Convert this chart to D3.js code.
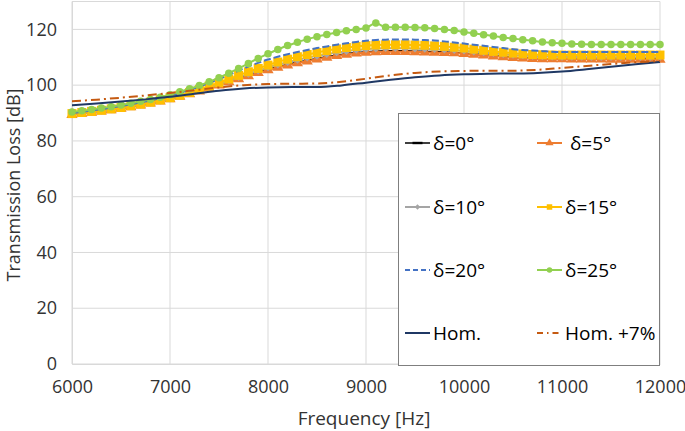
<!DOCTYPE html>
<html>
<head>
<meta charset="utf-8">
<script src="https://cdn.jsdelivr.net/npm/d3@7"></script>
<style>
  body { margin: 0; background: #fff; }
  svg { font-family: "Open Sans", sans-serif; }
  .legend text { white-space: pre; }
</style>
</head>
<body>
<svg width="685" height="431"></svg>
<script>
// frequencies of the marker series (every 100 Hz) and of the smooth reference curves (every 250 Hz)
var freqs = d3.range(6000, 12001, 100);
var freqsHom = d3.range(6000, 12001, 250);

var xTicks = [6000, 7000, 8000, 9000, 10000, 11000, 12000];
var yTicks = [0, 20, 40, 60, 80, 100, 120];

var delta0 = [89.6,90.0,90.4,90.8,91.3,91.8,92.4,93.0,93.7,94.4,
  95.2,96.1,97.0,98.0,99.1,100.2,101.4,102.5,103.6,104.7,
  105.7,106.6,107.4,108.2,108.9,109.6,110.2,110.8,111.3,111.7,
  112.0,112.2,112.3,112.3,112.3,112.2,112.1,112.0,111.9,111.7,
  111.5,111.2,110.9,110.6,110.3,110.0,109.8,109.6,109.5,109.4,
  109.3,109.3,109.3,109.3,109.3,109.3,109.3,109.4,109.4,109.5,109.5];

var delta5 = [89.4,89.8,90.2,90.6,91.1,91.6,92.2,92.8,93.5,94.2,
  95.0,95.9,96.8,97.8,98.9,100.0,101.1,102.2,103.3,104.4,
  105.4,106.3,107.1,107.9,108.6,109.3,109.9,110.5,111.0,111.4,
  111.7,111.9,112.0,112.0,112.0,111.9,111.8,111.7,111.6,111.5,
  111.3,111.0,110.7,110.4,110.1,109.8,109.6,109.5,109.4,109.4,
  109.4,109.3,109.3,109.3,109.3,109.2,109.2,109.2,109.2,109.2,109.2];

var delta10 = [89.6,90.0,90.4,90.8,91.3,91.8,92.4,93.0,93.7,94.4,
  95.2,96.1,97.1,98.1,99.2,100.4,101.6,102.8,104.0,105.2,
  106.3,107.3,108.2,109.0,109.8,110.5,111.1,111.7,112.2,112.6,
  112.9,113.1,113.2,113.2,113.2,113.1,113.0,112.9,112.7,112.5,
  112.3,112.0,111.7,111.4,111.1,110.8,110.6,110.4,110.3,110.2,
  110.1,110.1,110.1,110.0,110.0,110.0,110.0,110.0,110.0,110.0,110.0];

var delta15 = [89.8,90.2,90.6,91.0,91.5,92.0,92.6,93.2,93.9,94.7,
  95.5,96.4,97.4,98.5,99.7,100.9,102.2,103.5,104.8,106.0,
  107.2,108.3,109.3,110.2,111.0,111.7,112.4,113.0,113.5,113.9,
  114.2,114.4,114.5,114.5,114.5,114.4,114.3,114.1,113.9,113.6,
  113.3,112.9,112.5,112.1,111.8,111.5,111.2,111.0,110.9,110.8,
  110.8,110.8,110.8,110.8,110.8,110.8,110.8,110.8,110.8,110.8,110.8];

var delta20 = [90.0,90.4,90.9,91.4,91.9,92.5,93.1,93.8,94.5,95.3,
  96.2,97.2,98.3,99.5,100.8,102.2,103.7,105.2,106.7,108.0,
  109.2,110.2,111.1,111.9,112.6,113.3,113.9,114.5,115.0,115.5,
  115.9,116.2,116.3,116.4,116.4,116.3,116.2,116.0,115.7,115.3,
  114.9,114.5,114.1,113.7,113.3,112.9,112.6,112.4,112.2,112.0,
  111.9,111.9,111.9,111.9,111.9,111.9,111.9,111.9,111.9,111.9,111.9];

var delta25 = [90.4,90.8,91.3,91.8,92.3,92.9,93.5,94.2,94.9,95.7,
  96.6,97.6,98.7,99.9,101.2,102.7,104.3,106.0,107.8,109.6,
  111.3,112.8,114.2,115.4,116.5,117.4,118.2,118.9,119.5,120.0,
  120.5,122.3,120.8,120.8,120.8,120.7,120.6,120.3,120.0,119.6,
  119.1,118.6,118.1,117.6,117.1,116.7,116.3,115.9,115.5,115.2,
  115.0,114.8,114.7,114.6,114.6,114.6,114.6,114.6,114.6,114.6,114.6];

var hom = [92.8,93.4,94.1,94.9,95.8,96.9,98.0,98.8,99.2,99.3,
  99.3,99.9,100.9,101.9,102.8,103.5,103.9,104.1,104.2,104.4,
  104.9,105.7,106.6,107.5,108.3];

var hom7 = [94.2,94.8,95.5,96.3,97.2,98.2,99.2,100.0,100.4,100.5,
  100.6,101.2,102.3,103.5,104.4,104.9,105.1,105.2,105.2,105.5,
  106.2,106.9,107.6,108.2,108.7];

var names = ["δ=0°", " δ=5°", "δ=10°", "δ=15°", "δ=20°", "δ=25°", "Hom.", "Hom. +7%"];

var series = [
  { name: names[0], f: freqs, v: delta0, color: "#000000", width: 1.5, dash: null, marker: "bar" },
  { name: names[1], f: freqs, v: delta5, color: "#ED7D31", width: 2, dash: null, marker: "triangle" },
  { name: names[2], f: freqs, v: delta10, color: "#A5A5A5", width: 2, dash: null, marker: "diamond" },
  { name: names[3], f: freqs, v: delta15, color: "#FFC000", width: 2, dash: null, marker: "square" },
  { name: names[4], f: freqs, v: delta20, color: "#4472C4", width: 2, dash: "7,3", marker: null },
  { name: names[5], f: freqs, v: delta25, color: "#92D050", width: 2, dash: null, marker: "circle" },
  { name: names[6], f: freqsHom, v: hom, color: "#1F3864", width: 2, dash: null, marker: null },
  { name: names[7], f: freqsHom, v: hom7, color: "#C55A11", width: 2, dash: "9,4,2,4", marker: null }
];

var svg = d3.select("svg");
var x = d3.scaleLinear().domain([6000, 12000]).range([72, 660]);
var y = d3.scaleLinear().domain([0, 130]).range([364, 1.5]);

// grid
svg.append("g").selectAll("line.h").data(yTicks.concat([130])).enter().append("line")
  .attr("x1", x(6000)).attr("x2", x(12000))
  .attr("y1", d => y(d)).attr("y2", d => y(d))
  .attr("stroke", "#d9d9d9").attr("stroke-width", 1);
svg.append("g").selectAll("line.v").data(xTicks).enter().append("line")
  .attr("x1", d => x(d)).attr("x2", d => x(d))
  .attr("y1", y(0)).attr("y2", y(130))
  .attr("stroke", "#d9d9d9").attr("stroke-width", 1);

// axes (labels only, Excel style)
var xAxis = svg.append("g").attr("transform", "translate(0," + y(0) + ")")
  .call(d3.axisBottom(x).tickValues(xTicks).tickFormat(d3.format("d")).tickSize(0).tickPadding(16));
var yAxis = svg.append("g").attr("transform", "translate(" + x(6000) + ",0)")
  .call(d3.axisLeft(y).tickValues(yTicks).tickSize(0).tickPadding(15));
[xAxis, yAxis].forEach(function (a) {
  a.select(".domain").attr("stroke", "#d9d9d9");
  a.selectAll("text").attr("font-size", "18px").attr("fill", "#333")
    .attr("font-family", "Open Sans, sans-serif");
});

svg.append("text").attr("x", 364).attr("y", 425).attr("text-anchor", "middle")
  .attr("font-size", "19px").attr("fill", "#333").text("Frequency [Hz]");
svg.append("text").attr("transform", "translate(20,185) rotate(-90)").attr("text-anchor", "middle")
  .attr("font-size", "18px").attr("fill", "#333").text("Transmission Loss [dB]");

// curves
var plot = svg.append("g");
function markerPath(type, s) {
  if (type === "triangle") return d3.symbol(d3.symbolTriangle, s * s * 0.45)();
  if (type === "diamond") return "M0," + (-s / 2) + "L" + (s / 2) + ",0L0," + (s / 2) + "L" + (-s / 2) + ",0Z";
  if (type === "square") return d3.symbol(d3.symbolSquare, s * s)();
  if (type === "circle") return d3.symbol(d3.symbolCircle, Math.PI * s * s / 4)();
  if (type === "bar") return "M" + (-s / 2) + ",-1.2H" + (s / 2) + "V1.2H" + (-s / 2) + "Z";
  return null;
}
var markerSize = { triangle: 11, diamond: 7.5, square: 9, circle: 7.5, bar: 6 };

series.forEach(function (s) {
  var pts = s.f.map((f, i) => [f, s.v[i]]);
  var line = d3.line().x(d => x(d[0])).y(d => y(d[1])).curve(d3.curveMonotoneX);
  var g = plot.append("g");
  g.append("path").datum(pts).attr("d", line).attr("fill", "none")
    .attr("stroke", s.color).attr("stroke-width", s.width)
    .attr("stroke-dasharray", s.dash);
  if (s.marker) {
    g.selectAll("path.m").data(pts).enter().append("path")
      .attr("d", markerPath(s.marker, markerSize[s.marker]))
      .attr("transform", d => "translate(" + x(d[0]) + "," + y(d[1]) + ")")
      .attr("fill", s.color);
  }
});

// legend
var legend = svg.append("g").attr("class", "legend");
legend.append("rect").attr("x", 398.5).attr("y", 113.5).attr("width", 261).attr("height", 252)
  .attr("fill", "#fff").attr("stroke", "#7f7f7f").attr("stroke-width", 1);
var rowY = [143, 207, 270, 333];
var colX = [405, 537];
series.forEach(function (s, i) {
  var lx = colX[i % 2], ly = rowY[Math.floor(i / 2)];
  var g = legend.append("g").attr("transform", "translate(" + lx + "," + ly + ")");
  g.append("line").attr("x1", 0).attr("x2", 25).attr("y1", 0).attr("y2", 0)
    .attr("stroke", s.color).attr("stroke-width", s.width)
    .attr("stroke-dasharray", s.dash ? (s.name === names[4] ? "5,3" : "6,4,1.5,4") : null);
  if (s.marker) {
    var sz = s.marker === "bar" ? 10 : (s.marker === "triangle" ? 8 : 5.5);
    g.append("path").attr("d", markerPath(s.marker, sz))
      .attr("transform", "translate(12.5,0)").attr("fill", s.color);
  }
  g.append("text").attr("x", 28).attr("y", 0).attr("dy", "0.35em")
    .attr("font-size", "19px").attr("fill", "#000").text(s.name);
});
</script>
</body>
</html>
